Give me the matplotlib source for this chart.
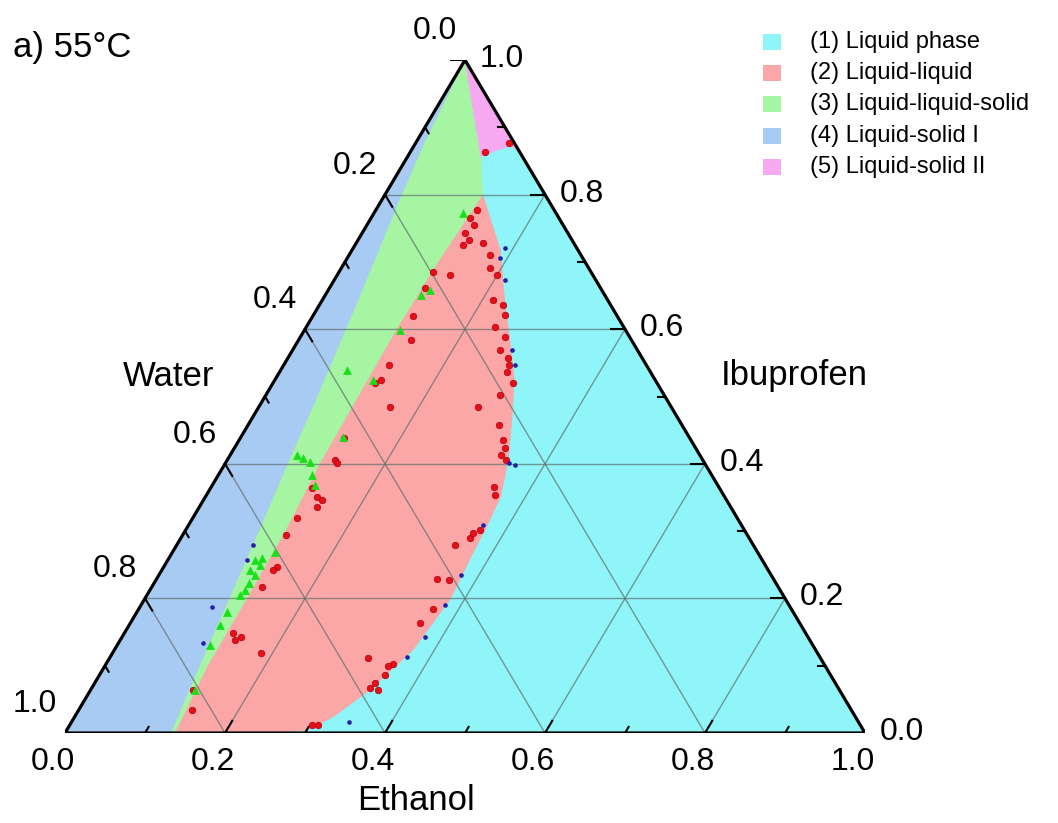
import matplotlib.pyplot as plt
from matplotlib.patches import Polygon, Rectangle
import numpy as np

plt.rcParams['font.family'] = ['Liberation Sans', 'DejaVu Sans']

# Phase boundaries, as (ethanol, ibuprofen) mass fractions
blue_green_e = [0.0, 0.010, 0.022, 0.045, 0.065, 0.078, 0.092, 0.105, 0.118, 0.132]
blue_green_i = [1.0, 0.88, 0.79, 0.64, 0.50, 0.40, 0.30, 0.20, 0.10, 0.0]

green_red_e = [0.137, 0.128, 0.127, 0.125, 0.118, 0.116, 0.114, 0.116, 0.122]
green_red_i = [0.0, 0.10, 0.20, 0.30, 0.40, 0.50, 0.60, 0.70, 0.80]

binodal_e = [0.122, 0.185, 0.228, 0.264, 0.299, 0.326, 0.351, 0.369, 0.374,
             0.376, 0.382, 0.373, 0.349, 0.323, 0.300, 0.250]
binodal_i = [0.80, 0.718, 0.643, 0.584, 0.525, 0.465, 0.406, 0.351, 0.302,
             0.269, 0.198, 0.123, 0.064, 0.024, 0.0045, 0.0]

cyan_top_e = [0.092, 0.107, 0.120, 0.134]
cyan_top_i = [0.856, 0.866, 0.872, 0.866]

# Experimental points (ethanol, ibuprofen)
red_e = [0.126, 0.124, 0.134, 0.129, 0.138, 0.135, 0.159, 0.176, 0.186, 0.200,
         0.118, 0.141, 0.119, 0.125, 0.140, 0.213, 0.230, 0.239, 0.236, 0.256,
         0.259, 0.275, 0.282, 0.285, 0.300, 0.293, 0.274, 0.314, 0.330, 0.338,
         0.339, 0.348, 0.353, 0.361, 0.361, 0.361, 0.348, 0.132, 0.132, 0.128,
         0.164, 0.130, 0.135, 0.127, 0.139, 0.148, 0.130, 0.129, 0.140, 0.147,
         0.142, 0.139, 0.138, 0.135, 0.144, 0.148, 0.185, 0.128, 0.142, 0.303,
         0.310, 0.323, 0.359, 0.354, 0.357, 0.351, 0.348, 0.359, 0.351, 0.367,
         0.368, 0.362, 0.094, 0.116, 0.368]
red_i = [0.777, 0.765, 0.755, 0.743, 0.733, 0.725, 0.728, 0.710, 0.691, 0.681,
         0.685, 0.681, 0.661, 0.620, 0.584, 0.643, 0.636, 0.621, 0.603, 0.588,
         0.569, 0.557, 0.547, 0.536, 0.520, 0.502, 0.484, 0.458, 0.435, 0.423,
         0.413, 0.406, 0.366, 0.354, 0.290, 0.297, 0.279, 0.547, 0.525, 0.520,
         0.484, 0.438, 0.406, 0.364, 0.351, 0.346, 0.319, 0.294, 0.401, 0.336,
         0.247, 0.242, 0.217, 0.149, 0.138, 0.143, 0.119, 0.064, 0.034, 0.012,
         0.012, 0.111, 0.103, 0.100, 0.086, 0.074, 0.067, 0.064, 0.229, 0.227,
         0.184, 0.163, 0.863, 0.877, 0.302]

blue_e = [0.190, 0.191, 0.213, 0.289, 0.274, 0.354, 0.368, 0.377, 0.380,
          0.379, 0.371, 0.347, 0.095, 0.099, 0.090, 0.1055, 0.363]
blue_i = [0.721, 0.706, 0.673, 0.547, 0.569, 0.401, 0.309, 0.235, 0.190,
          0.143, 0.113, 0.016, 0.279, 0.257, 0.187, 0.134, 0.398]

green_e = [0.111, 0.119, 0.127, 0.119, 0.083, 0.123, 0.1275, 0.083, 0.0935,
           0.105, 0.117, 0.1285, 0.128, 0.1095, 0.119, 0.110, 0.1205, 0.118,
           0.119, 0.1165, 0.1125, 0.114, 0.116, 0.1305, 0.116]
green_i = [0.773, 0.651, 0.658, 0.599, 0.539, 0.525, 0.440, 0.413, 0.409,
           0.403, 0.383, 0.368, 0.269, 0.257, 0.250, 0.242, 0.235, 0.223,
           0.212, 0.205, 0.180, 0.160, 0.131, 0.064, 0.260]

legend_labels = ['(1) Liquid phase', '(2) Liquid-liquid', '(3) Liquid-liquid-solid',
                 '(4) Liquid-solid I', '(5) Liquid-solid II']
phase_colors = ['#8ff5f8', '#fba7a7', '#a6f5a2', '#a8cbf3', '#f6a9f1']
ticks = [0.0, 0.2, 0.4, 0.6, 0.8, 1.0]


def tern(e, i):
    e = np.asarray(e, dtype=float)
    i = np.asarray(i, dtype=float)
    return e + i / 2, i


def poly(e, i, color):
    x, y = tern(e, i)
    ax.add_patch(Polygon(np.column_stack([x, y]), closed=True, facecolor=color,
                         edgecolor=color, lw=0.5, zorder=1))


W, H = 1058, 823
fig = plt.figure(figsize=(W / 100, H / 100), dpi=100)
ax = fig.add_axes([65 / W, 90 / H, 800 / W, 673 / H])
ax.set_xlim(0, 1)
ax.set_ylim(0, 1)
ax.axis('off')

# phase regions
poly([0, 1, 0], [0, 0, 1], phase_colors[0])
poly(green_red_e + binodal_e, green_red_i + binodal_i, phase_colors[1])
poly(blue_green_e + green_red_e + [0.092],
     blue_green_i + green_red_i + [0.856], phase_colors[2])
poly([0.0, 0.0] + blue_green_e[::-1], [1.0, 0.0] + blue_green_i[::-1], phase_colors[3])
poly([0.0] + cyan_top_e, [1.0] + cyan_top_i, phase_colors[4])

# grid
for v in [0.2, 0.4, 0.6, 0.8]:
    for e, i in [([0, 1 - v], [v, v]), ([v, v], [0, 1 - v]), ([1 - v, 0], [0, 1 - v])]:
        x, y = tern(e, i)
        ax.plot(x, y, color='#5f6f70', lw=1.0, alpha=0.7, zorder=2)

# frame
x, y = tern([0, 1, 0, 0], [0, 0, 1, 0])
ax.plot(x, y, color='black', lw=2.3, zorder=5, solid_joinstyle='miter')

# tick marks
for k in range(11):
    t = k / 10
    d = 0.018 if k % 2 == 0 else 0.009
    # ethanol (bottom)
    x, y = tern([t, t], [0, d])
    ax.plot(x, y, color='black', lw=1.5, zorder=5)
    # water (left)
    x, y = tern([0, d], [1 - t, 1 - t - d])
    ax.plot(x, y, color='black', lw=1.5, zorder=5)
    # ibuprofen (right)
    x, y = tern([1 - t, 1 - t - d], [t, t])
    ax.plot(x, y, color='black', lw=1.5, zorder=5)

# experimental points
x, y = tern(red_e, red_i)
ax.scatter(x, y, s=22, marker='o', color='#e6101a', edgecolors='#b0000c',
           linewidths=0.5, zorder=6, clip_on=False)
x, y = tern(blue_e, blue_i)
ax.scatter(x, y, s=11, marker='o', color='#2020a8', linewidths=0, zorder=6)
x, y = tern(green_e, green_i)
ax.scatter(x, y, s=40, marker='^', color='#18e018', linewidths=0, zorder=6)

# tick labels
fs = 23
for t in ticks:
    lab = f'{t:.1f}'
    x, y = tern(t, 0)
    ax.annotate(lab, (x, y), xytext=(-12, -29), textcoords='offset pixels',
                ha='center', va='center', fontsize=fs, annotation_clip=False)
    x, y = tern(0, 1 - t)
    ax.annotate(lab, (x, y), xytext=(-30, 29), textcoords='offset pixels',
                ha='center', va='center', fontsize=fs, annotation_clip=False)
    x, y = tern(1 - t, t)
    ax.annotate(lab, (x, y), xytext=(15, 1), textcoords='offset pixels',
                ha='left', va='center', fontsize=fs, annotation_clip=False)

# axis titles
fig.text(169 / W, 1 - 376 / H, 'Water', ha='center', va='center', fontsize=25)
fig.text(794 / W, 1 - 376 / H, 'Ibuprofen', ha='center', va='center', fontsize=25)
fig.text(416 / W, 1 - 800 / H, 'Ethanol', ha='center', va='center', fontsize=25)
fig.text(13 / W, 1 - 47 / H, 'a) 55\u00b0C', ha='left', va='center', fontsize=25)

# legend
for k, (lab, c) in enumerate(zip(legend_labels, phase_colors)):
    yc = 42 + 31.2 * k
    fig.patches.append(Rectangle((763 / W, 1 - (yc + 8) / H), 18 / W, 16 / H,
                                 transform=fig.transFigure, facecolor=c,
                                 edgecolor='none'))
    fig.text(810 / W, 1 - yc / H, lab, ha='left', va='center', fontsize=17)

fig.savefig('out.png', dpi=100)
